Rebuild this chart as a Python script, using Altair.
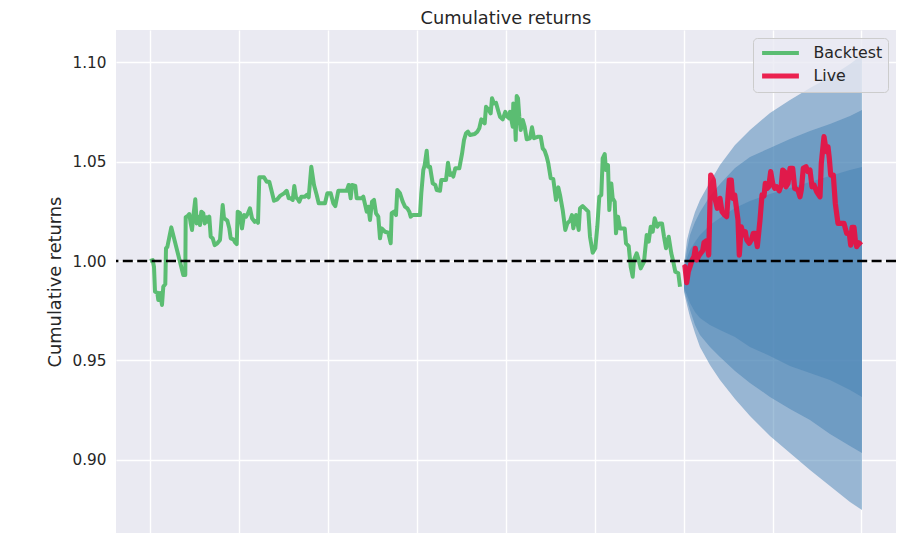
import altair as alt
import pandas as pd

# ---- Backtest cumulative returns (day index, value) ----
bt_day = [0, 2.7, 4, 5, 7.3, 8.3, 10, 12, 13.3, 15.3, 16, 17.3, 21.3, 33.3, 35.3, 35.7, 37.7, 39.3, 40.7, 42,
          43.3, 45.3, 46.7, 48.3, 50, 51.3, 53.3, 54.7, 56.7, 58, 59.3, 60.7, 62.7, 64.7, 67.3, 70, 72.7, 74,
          77.3, 79.3, 80.7, 83.3, 85.3, 86.7, 87.7, 90, 92, 94, 96, 98, 100, 102, 104.7, 106.7, 108, 109.3,
          114, 116.7, 119.3, 121, 124, 127.3, 130, 134, 136.7, 138.7, 140.7, 142.7, 144.3, 146, 148, 149.3,
          151.3, 154.7, 156.7, 158.7, 161.3, 164, 166.7, 168.7, 175, 177.3, 180.7, 183.3, 185.3, 188.3, 196.7,
          198.7, 200.7, 202, 205.3, 206.7, 211.7, 213.3, 216.7, 218.3, 220, 222, 224, 226, 228.3, 230, 231.7,
          235, 238.3, 240.7, 241.7, 244, 246, 247.3, 250, 252.7, 255, 257.3, 259.3, 260.7, 262.7, 270, 271.3,
          273.3, 274.7, 276.7, 278, 280, 282.7, 285.3, 286.7, 290, 291.3, 296, 298, 300, 302, 303.3, 305.3,
          309.3, 312, 314, 316, 318, 320, 324.7, 327.3, 329.3, 331.3, 333.3, 334.7, 336, 338.7, 340.7, 342,
          344, 346, 348, 350, 352.7, 355.3, 357.3, 359.3, 360, 362.7, 363.3, 364.7, 365.7, 366.7, 368, 369.3,
          370.7, 372.7, 374.7, 376.7, 380, 382, 384, 388.3, 390.7, 392.7, 394.7, 396.7, 398.3, 400.7, 403.3,
          406, 408.3, 410, 412.7, 415.3, 417.3, 420, 422, 423.3, 426, 428.7, 430, 432.7, 438.3, 440, 442.7,
          445.3, 447.3, 449.3, 451.3, 452.7, 454.7, 456, 458, 459.3, 461.3, 462.7, 464.7, 466, 468, 470,
          474.7, 476, 478.7, 480.7, 482.7, 484, 486.7, 488.7, 490.7, 494, 496.7, 498.7, 500.7, 502.7, 504.7,
          507.3, 509.3, 512, 514, 516, 518.7, 521.3, 523.3, 525.3, 528.3, 530]
bt_val = [1.0000, 1.0005, 0.9971, 0.9846, 0.9841, 0.9804, 0.9839, 0.9779, 0.9871, 0.9884, 1.0064, 1.0070,
          1.0169, 0.9930, 0.9930, 1.0220, 1.0226, 1.0236, 1.0189, 1.0156, 1.0223, 1.0310, 1.0189, 1.0223,
          1.0181, 1.0248, 1.0240, 1.0189, 1.0220, 1.0197, 1.0223, 1.0122, 1.0114, 1.0080, 1.0089, 1.0106,
          1.0281, 1.0215, 1.0203, 1.0164, 1.0114, 1.0109, 1.0092, 1.0085, 1.0248, 1.0240, 1.0164, 1.0231,
          1.0223, 1.0240, 1.0265, 1.0215, 1.0197, 1.0203, 1.0192, 1.0421, 1.0421, 1.0398, 1.0398, 1.0365,
          1.0303, 1.0310, 1.0327, 1.0340, 1.0353, 1.0315, 1.0315, 1.0307, 1.0377, 1.0320, 1.0310, 1.0298,
          1.0323, 1.0323, 1.0332, 1.0320, 1.0474, 1.0382, 1.0332, 1.0290, 1.0290, 1.0340, 1.0340, 1.0290,
          1.0276, 1.0353, 1.0353, 1.0382, 1.0315, 1.0382, 1.0377, 1.0315, 1.0315, 1.0323, 1.0248, 1.0273,
          1.0206, 1.0298, 1.0307, 1.0240, 1.0223, 1.0114, 1.0164, 1.0147, 1.0142, 1.0089, 1.0240, 1.0248,
          1.0231, 1.0357, 1.0340, 1.0298, 1.0273, 1.0265, 1.0248, 1.0223, 1.0231, 1.0231, 1.0340, 1.0457,
          1.0482, 1.0554, 1.0474, 1.0474, 1.0390, 1.0382, 1.0357, 1.0353, 1.0407, 1.0407, 1.0494, 1.0432,
          1.0441, 1.0424, 1.0466, 1.0466, 1.0538, 1.0608, 1.0642, 1.0650, 1.0633, 1.0638, 1.0650, 1.0667,
          1.0712, 1.0700, 1.0692, 1.0775, 1.0759, 1.0742, 1.0818, 1.0792, 1.0795, 1.0759, 1.0725, 1.0712,
          1.0750, 1.0725, 1.0717, 1.0750, 1.0675, 1.0792, 1.0742, 1.0608, 1.0829, 1.0818, 1.0725, 1.0658,
          1.0709, 1.0675, 1.0612, 1.0617, 1.0672, 1.0617, 1.0625, 1.0625, 1.0566, 1.0554, 1.0524, 1.0491,
          1.0416, 1.0411, 1.0307, 1.0370, 1.0332, 1.0256, 1.0156, 1.0189, 1.0203, 1.0231, 1.0164, 1.0231,
          1.0156, 1.0265, 1.0276, 1.0248, 1.0122, 1.0042, 1.0064, 1.0172, 1.0323, 1.0332, 1.0516, 1.0538,
          1.0457, 1.0482, 1.0256, 1.0390, 1.0315, 1.0298, 1.0139, 1.0223, 1.0164, 1.0164, 1.0089, 1.0075,
          0.9971, 0.9921, 1.0005, 1.0039, 1.0005, 0.9963, 0.9996, 1.0131, 1.0097, 1.0172, 1.0147, 1.0215,
          1.0172, 1.0189, 1.0189, 1.0122, 1.0064, 1.0122, 1.0039, 0.9996, 0.9946, 0.9938, 0.9871]

# ---- Live cumulative returns ----
live_day = [533.5, 535, 536.7, 538.3, 540, 542, 544, 545.3, 546.7, 549.3, 552.7, 554, 556.7, 558.7, 560.7,
            563.3, 565.3, 567.3, 570, 572, 574.7, 576.7, 578, 579.3, 581.3, 582.7, 584.7, 586.7, 588, 589.3,
            591.3, 593.3, 595.3, 596.7, 599.3, 601.3, 603.3, 605.3, 607.3, 610, 612, 614, 615.3, 617.3,
            618.7, 620.7, 622.7, 624.7, 626.7, 629.3, 631.3, 632.7, 634.7, 636, 638, 640, 642.7, 644.7, 648,
            650, 651.3, 653.3, 656, 658, 660, 662, 664, 666.7, 670, 671.3, 674, 675.3, 676.7, 678, 679.3,
            680.7, 683.3, 685.3, 688, 690, 694, 696.7, 699.3, 700.7, 702, 704, 705.3, 706.7, 708.7, 711.3]
live_val = [0.9965, 0.9971, 0.9891, 0.9946, 0.9971, 1.0005, 1.0022, 1.0064, 1.0005, 1.0030, 1.0052, 1.0092,
            1.0102, 1.0030, 1.0432, 1.0407, 1.0307, 1.0265, 1.0315, 1.0248, 1.0231, 1.0223, 1.0323, 1.0407,
            1.0407, 1.0315, 1.0332, 1.0256, 1.0206, 1.0030, 1.0172, 1.0131, 1.0147, 1.0106, 1.0089, 1.0106,
            1.0139, 1.0139, 1.0072, 1.0206, 1.0332, 1.0327, 1.0390, 1.0365, 1.0373, 1.0449, 1.0390, 1.0365,
            1.0373, 1.0353, 1.0382, 1.0457, 1.0449, 1.0373, 1.0390, 1.0466, 1.0466, 1.0365, 1.0357, 1.0323,
            1.0357, 1.0466, 1.0474, 1.0449, 1.0457, 1.0373, 1.0382, 1.0348, 1.0323, 1.0491, 1.0625, 1.0583,
            1.0549, 1.0574, 1.0516, 1.0432, 1.0432, 1.0290, 1.0189, 1.0189, 1.0189, 1.0139, 1.0139, 1.0080,
            1.0169, 1.0169, 1.0106, 1.0072, 1.0092, 1.0080]

# ---- Forecast cone bounds (1, 1.5, 2 std) ----
cone_day = [534, 537, 540, 545, 550, 560, 570, 585, 600, 620, 640, 660, 680, 700, 712]
upper_2 = [0.9980, 1.0106, 1.0166, 1.0246, 1.0307, 1.0397, 1.0482, 1.0583, 1.0658, 1.0744, 1.0809, 1.0869,
           1.0925, 1.0990, 1.1035]
upper_15 = [0.9955, 1.0055, 1.0131, 1.0196, 1.0246, 1.0327, 1.0387, 1.0467, 1.0523, 1.0568, 1.0613, 1.0653,
            1.0688, 1.0729, 1.0759]
upper_1 = [0.9925, 1.0015, 1.0055, 1.0095, 1.0131, 1.0181, 1.0216, 1.0266, 1.0302, 1.0337, 1.0367, 1.0397,
           1.0427, 1.0457, 1.0472]
lower_1 = [0.9864, 0.9829, 0.9789, 0.9744, 0.9714, 0.9678, 0.9653, 0.9618, 0.9568, 0.9523, 0.9472, 0.9437,
           0.9402, 0.9352, 0.9317]
lower_15 = [0.9854, 0.9804, 0.9754, 0.9678, 0.9628, 0.9568, 0.9518, 0.9447, 0.9387, 0.9317, 0.9256, 0.9201,
            0.9131, 0.9070, 0.9035]
lower_2 = [0.9844, 0.9779, 0.9719, 0.9638, 0.9568, 0.9477, 0.9402, 0.9307, 0.9221, 0.9121, 0.9035, 0.8950,
           0.8869, 0.8789, 0.8749]

grid_days = [0, 89, 178, 267, 356, 445, 534, 623, 711]
y_ticks = [0.90, 0.95, 1.00, 1.05, 1.10]
series_names = ["Backtest", "Live"]
series_colors = ["#5bbd72", "#ec0c3e"]
series_opacity = [1.0, 0.9]
series_widths = [4, 5.2]

FONT = "DejaVu Sans"
TXT = "#262626"

lines = pd.concat([
    pd.DataFrame({"day": bt_day, "value": bt_val, "series": "Backtest"}),
    pd.DataFrame({"day": live_day, "value": live_val, "series": "Live"}),
])
cone = pd.DataFrame({"day": cone_day, "u2": upper_2, "u15": upper_15, "u1": upper_1,
                     "l1": lower_1, "l15": lower_15, "l2": lower_2})
base_line = pd.DataFrame({"value": [1.0]})

xscale = alt.Scale(domain=[-34, 746], nice=False, zero=False)
yscale = alt.Scale(domain=[0.8633, 1.1161], nice=False, zero=False)
xaxis = alt.Axis(values=grid_days, labels=False, ticks=False, domain=False, grid=True,
                 gridColor="white", gridWidth=1.4, title=None)
yaxis = alt.Axis(values=y_ticks, format=".2f", ticks=False, tickSize=0, domain=False, grid=True,
                 gridColor="white", gridWidth=1.4, labelPadding=10, titlePadding=8)


def xenc():
    return alt.X("day:Q", scale=xscale, axis=xaxis)


def yenc(field):
    return alt.Y(f"{field}:Q", scale=yscale, axis=yaxis, title="Cumulative returns")


cone_layers = []
for hi, lo in [("u2", "l2"), ("u15", "l15"), ("u1", "l1")]:
    cone_layers.append(
        alt.Chart(cone).mark_area(color="steelblue", opacity=0.5, interpolate="linear").encode(
            x=xenc(), y=yenc(hi), y2=alt.Y2(f"{lo}:Q")
        )
    )

legend = alt.Legend(title=None)
line_layer = alt.Chart(lines).mark_line(strokeCap="butt", strokeJoin="round").encode(
    x=xenc(),
    y=yenc("value"),
    color=alt.Color("series:N", scale=alt.Scale(domain=series_names, range=series_colors), legend=legend),
    strokeWidth=alt.StrokeWidth("series:N", scale=alt.Scale(domain=series_names, range=series_widths),
                                legend=legend),
    opacity=alt.Opacity("series:N", scale=alt.Scale(domain=series_names, range=series_opacity),
                        legend=legend),
)

rule_layer = alt.Chart(base_line).mark_rule(color="black", strokeWidth=2.4, strokeDash=[10, 4.4]).encode(
    y=yenc("value")
)

chart = alt.layer(*cone_layers, line_layer, rule_layer).properties(
    width=780,
    height=503,
    title=alt.TitleParams("Cumulative returns", font=FONT, fontSize=17.8, fontWeight="normal",
                          color=TXT, offset=2, anchor="middle"),
    autosize=alt.AutoSizeParams(type="none"),
    padding={"left": 108, "top": 22, "right": 12, "bottom": 12},
).configure_view(
    fill="#EAEAF2", stroke=None
).configure_axis(
    labelFont=FONT, labelFontSize=15.28, labelColor=TXT,
    titleFont=FONT, titleFontSize=17.8, titleColor=TXT, titleFontWeight="normal",
).configure_legend(
    orient="top-right", offset=8, fillColor="rgba(234,234,242,0.8)", strokeColor="#cccccc",
    cornerRadius=4, padding=5, labelFont=FONT, labelFontSize=15.8, labelColor=TXT,
    symbolType="M-2.3,0L2.3,0", symbolSize=256, symbolOffset=11.5, labelOffset=22, rowPadding=4,
)

chart.save("out.html", embed_options={"renderer": "svg", "actions": False})
